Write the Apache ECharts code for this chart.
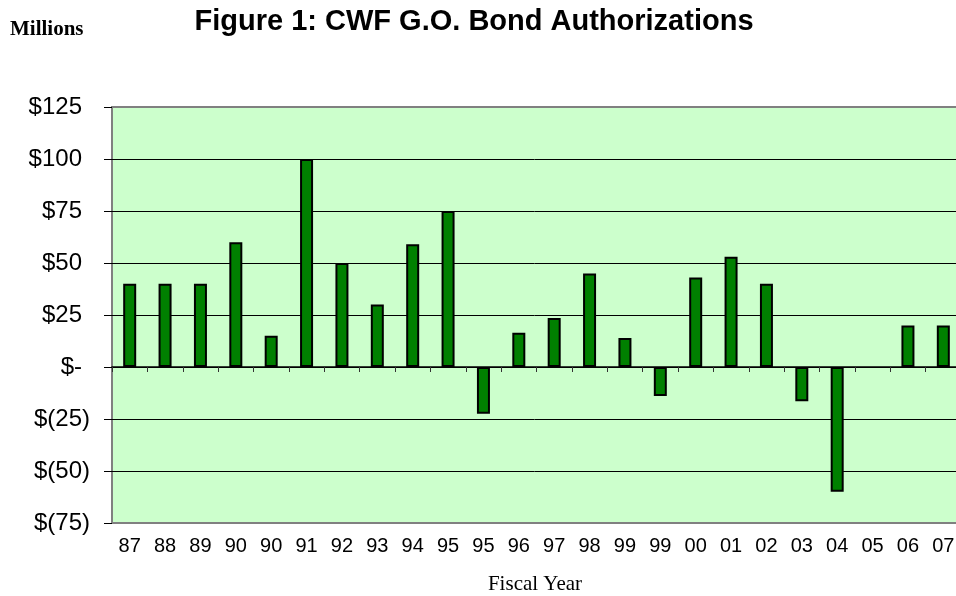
<!DOCTYPE html>
<html>
<head>
<meta charset="utf-8">
<style>html,body{margin:0;padding:0;background:#fff;}#c{width:956px;height:596px;}</style>
<script src="https://cdn.jsdelivr.net/npm/echarts@6/dist/echarts.min.js"></script>
</head>
<body>
<div id="c"></div>
<script>
const categories = ['87','88','89','90','90','91','92','93','94','95','95','96','97','98','99','99','00','01','02','03','04','05','06','07'];
const authorizations = [40,40,40,60,15,100,50,30,59,75,-22.5,16.5,23.5,45,14,-14,43,53,40,-16.5,-60,0,20,20];
const yMin = -75, yMax = 125, yStep = 25;
const titleText = 'Figure 1: CWF G.O. Bond Authorizations';
const unitText = 'Millions';
const xAxisTitle = 'Fiscal Year';

const chart = echarts.init(document.getElementById('c'));
const sans = 'Liberation Sans, Arial, sans-serif';
const serif = 'Liberation Serif, Times New Roman, serif';
chart.setOption({
  animation: false,
  graphic: [
    {type:'text', x:474, y:22, style:{text:titleText, font:'bold 29px ' + sans, fill:'#000', textAlign:'center', textVerticalAlign:'middle'}},
    {type:'text', x:10, y:30, style:{text:unitText, font:'bold 21px ' + serif, fill:'#000', textAlign:'left', textVerticalAlign:'middle'}},
    {type:'text', x:535, y:584, style:{text:xAxisTitle, font:'21px ' + serif, fill:'#000', textAlign:'center', textVerticalAlign:'middle'}}
  ],
  grid: {left:112, top:107, width:849, bottom:73, outerBoundsMode:'none', containLabel:false, show:true, backgroundColor:'#CCFFCC', borderColor:'#808080', borderWidth:2},
  xAxis: [
    {type:'category', data:categories, position:'bottom',
     axisLine:{show:true, onZero:true, lineStyle:{color:'#000', width:1.5}},
     axisTick:{show:true, length:5, lineStyle:{color:'#333'}},
     axisLabel:{show:false}, splitLine:{show:false}},
    {type:'category', data:categories, position:'bottom',
     axisLine:{show:false, onZero:false}, axisTick:{show:false},
     axisLabel:{show:true, margin:13, fontSize:20, fontFamily:sans, color:'#000'}}
  ],
  yAxis: {type:'value', min:yMin, max:yMax, interval:yStep,
    axisLine:{show:false},
    axisTick:{show:true, length:8, lineStyle:{color:'#000'}},
    splitLine:{show:true, lineStyle:{color:['rgba(0,0,0,0)','#000','#000','#000','#000','#000','#000','#000','rgba(0,0,0,0)'], width:1}},
    axisLabel:{margin:22, fontSize:24, fontFamily:sans, color:'#000',
      formatter: function(v){
        if (v < 0) return '$(' + (-v) + ')';
        if (v === 0) return '$-{h|)}';
        return '$' + v + '{h|)}';
      },
      rich:{h:{color:'rgba(0,0,0,0)', fontSize:24, fontFamily:sans}}
    }
  },
  series: [{type:'bar', xAxisIndex:0, barWidth:13,
    data: authorizations.map(function(v){ return v === 0 ? {value:v, itemStyle:{borderWidth:0}} : v; }),
    itemStyle:{color:'#008000', borderColor:'#000', borderWidth:2}}]
});
</script>
</body>
</html>
